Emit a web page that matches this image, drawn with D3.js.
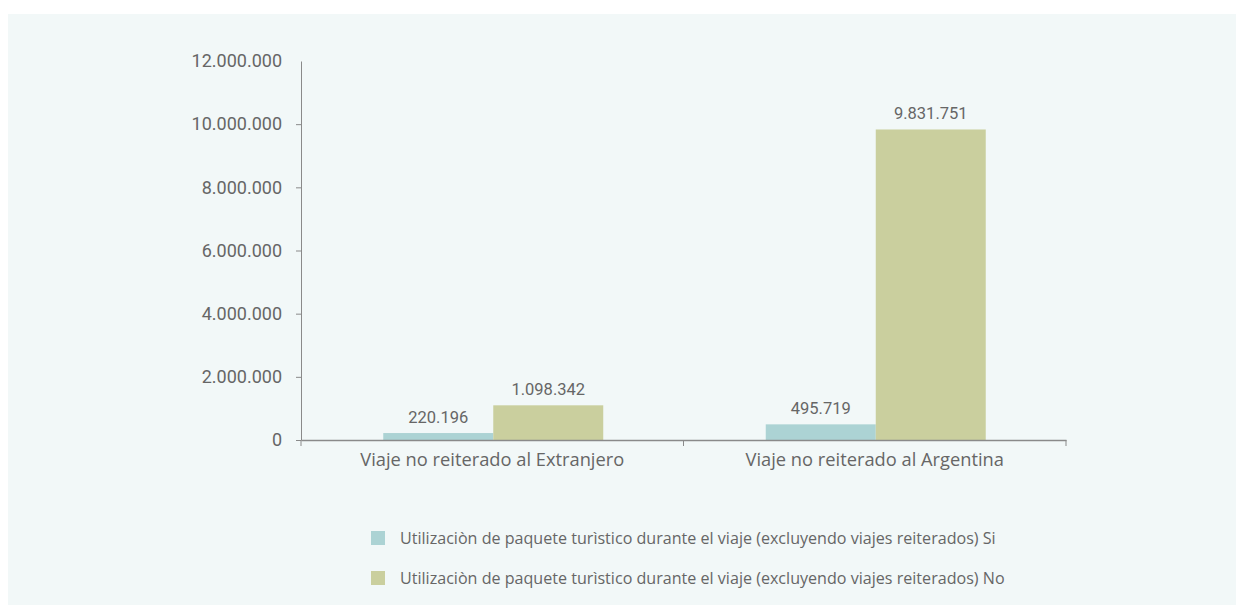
<!DOCTYPE html>
<html>
<head>
<meta charset="utf-8">
<script src="https://cdn.jsdelivr.net/npm/d3@7"></script>
<style>
  html, body { margin: 0; padding: 0; background: #ffffff; }
  svg { display: block; }
</style>
</head>
<body>
<svg id="chart" width="1236" height="605"></svg>
<script>
// Trip categories and package-use series
const categories = ["Viaje no reiterado al Extranjero", "Viaje no reiterado al Argentina"];
const seriesNames = [
  "Utilizaciòn de paquete turìstico durante el viaje (excluyendo viajes reiterados) Si",
  "Utilizaciòn de paquete turìstico durante el viaje (excluyendo viajes reiterados) No"
];
const valuesSi = [220196, 495719];
const valuesNo = [1098342, 9831751];
const yTicks = [0, 2000000, 4000000, 6000000, 8000000, 10000000, 12000000];
const colors = ["#acd3d4", "#cacf9e"];

const svg = d3.select("#chart");
const W = 1236, H = 605;

// light panel behind the chart
svg.append("rect").attr("x", 8).attr("y", 14).attr("width", W - 8).attr("height", H - 14)
  .attr("fill", "#f2f8f8");

const margin = { left: 301, right: 1066, top: 61, bottom: 440 };

const fmt = v => d3.format(",")(v).replace(/,/g, ".");

const x = d3.scaleBand().domain(categories).range([margin.left, margin.right]).paddingInner(0).paddingOuter(0);
const x1 = d3.scaleBand().domain(seriesNames).range([0, 220]);
const y = d3.scaleLinear().domain([0, 12000000]).range([margin.bottom, margin.top]);

const grey = "#666666";
const axisColor = "#8a8a8a";

// y axis
const yAxis = svg.append("g").attr("transform", `translate(${margin.left},0)`)
  .call(d3.axisLeft(y).tickValues(yTicks).tickFormat(fmt).tickSize(5).tickSizeOuter(0));
yAxis.select(".domain").attr("stroke", axisColor);
yAxis.selectAll(".tick line").attr("stroke", axisColor);
yAxis.selectAll(".tick text").attr("fill", grey)
  .attr("font-family", "Roboto, sans-serif").attr("font-size", 18).attr("x", -19);
yAxis.selectAll(".tick").filter(d => d === 12000000).select("line").remove();

// bars
const data = categories.map((c, i) => ({ cat: c, vals: [valuesSi[i], valuesNo[i]] }));
const groups = svg.append("g").selectAll("g").data(data).join("g")
  .attr("transform", d => `translate(${x(d.cat) + x.bandwidth() / 2 - 109},0)`);

groups.selectAll("rect").data(d => d.vals.map((v, j) => ({ v, s: seriesNames[j], j })))
  .join("rect")
  .attr("x", d => x1(d.s))
  .attr("width", x1.bandwidth())
  .attr("y", d => y(d.v))
  .attr("height", d => y(0) - y(d.v))
  .attr("fill", d => colors[d.j]);

groups.selectAll("text").data(d => d.vals.map((v, j) => ({ v, s: seriesNames[j], j })))
  .join("text")
  .attr("x", d => x1(d.s) + x1.bandwidth() / 2)
  .attr("y", d => y(d.v) - 10)
  .attr("text-anchor", "middle")
  .attr("fill", grey)
  .attr("font-family", "Roboto, sans-serif")
  .attr("font-size", 16.5)
  .text(d => fmt(d.v));

// x axis
const xAxis = svg.append("g").attr("transform", `translate(0,${margin.bottom})`)
  .call(d3.axisBottom(x).tickSize(0).tickSizeOuter(0));
xAxis.select(".domain").attr("stroke", axisColor).attr("stroke-width", 1.5);
xAxis.selectAll(".tick text").attr("fill", grey)
  .attr("font-family", "'Open Sans', sans-serif").attr("font-size", 18.3).attr("dy", "1.25em");
// boundary ticks between categories
const bounds = [margin.left, x(categories[1]), margin.right];
xAxis.selectAll(".bound").data(bounds).join("line").attr("class", "bound")
  .attr("x1", d => d).attr("x2", d => d).attr("y1", 0).attr("y2", 6)
  .attr("stroke", axisColor);

// legend
const legend = svg.append("g").selectAll("g").data(seriesNames).join("g")
  .attr("transform", (d, i) => `translate(371,${531 + i * 40})`);
legend.append("rect").attr("width", 14).attr("height", 14).attr("fill", (d, i) => colors[i]);
legend.append("text").attr("x", 29).attr("y", 7).attr("dy", "0.35em")
  .attr("fill", grey).attr("font-family", "'Open Sans', sans-serif").attr("font-size", 16.1)
  .text(d => d);
</script>
</body>
</html>
